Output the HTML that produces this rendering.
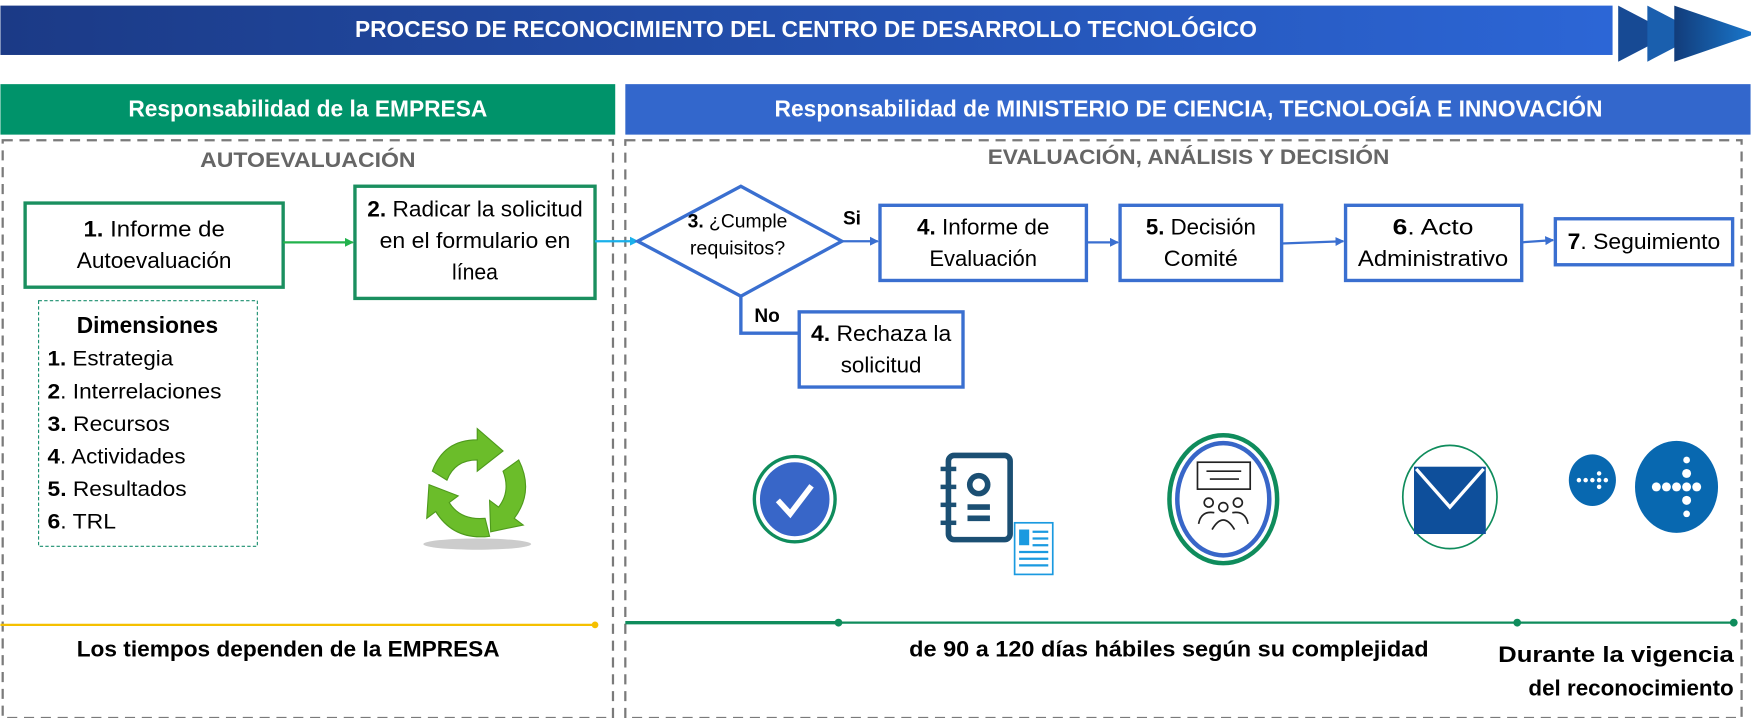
<!DOCTYPE html>
<html><head><meta charset="utf-8"><style>
html,body{margin:0;padding:0;background:#fff;}
svg{display:block;}
text{font-family:"Liberation Sans",Arial,sans-serif;}
</style></head><body>
<svg width="1751" height="718" viewBox="0 0 1560 640" xmlns="http://www.w3.org/2000/svg">
<defs>
<linearGradient id="tg" x1="0" x2="1" y1="0" y2="0"><stop offset="0" stop-color="#1b3a86"/><stop offset="1" stop-color="#2c66d6"/></linearGradient>
<linearGradient id="cg" x1="0" x2="1"><stop offset="0" stop-color="#123c7a"/><stop offset="1" stop-color="#1a7ad0"/></linearGradient>
<marker id="ab" markerWidth="8" markerHeight="8" refX="7" refY="4" orient="auto" markerUnits="userSpaceOnUse"><path d="M0,0 L8,4 L0,8 z" fill="#3a6fd0"/></marker>
<marker id="ag" markerWidth="8" markerHeight="8" refX="7" refY="4" orient="auto" markerUnits="userSpaceOnUse"><path d="M0,0 L8,4 L0,8 z" fill="#22b24c"/></marker>
<marker id="ac" markerWidth="8" markerHeight="8" refX="7" refY="4" orient="auto" markerUnits="userSpaceOnUse"><path d="M0,0 L8,4 L0,8 z" fill="#1ab0ea"/></marker>
</defs>
<rect x="0" y="5" width="1437" height="44" fill="url(#tg)"/>
<text x="718" y="33" text-anchor="middle" fill="#fff" font-weight="bold" font-size="21" textLength="804" lengthAdjust="spacingAndGlyphs">PROCESO DE RECONOCIMIENTO DEL CENTRO DE DESARROLLO TECNOLÓGICO</text>
<path d="M1442,5 L1490,30 L1442,55 z" fill="#174a94"/>
<path d="M1468,5 L1516,30 L1468,55 z" fill="#1a5fae"/>
<path d="M1492,5 L1565,30 L1492,55 z" fill="url(#cg)"/>
<rect x="0" y="75" width="548" height="45" fill="#00936a"/>
<text x="274" y="104" text-anchor="middle" fill="#fff" font-weight="bold" font-size="21" textLength="320" lengthAdjust="spacingAndGlyphs">Responsabilidad de la EMPRESA</text>
<rect x="557" y="75" width="1003" height="45" fill="#3367cc"/>
<text x="1059" y="104" text-anchor="middle" fill="#fff" font-weight="bold" font-size="21" textLength="738" lengthAdjust="spacingAndGlyphs">Responsabilidad de MINISTERIO DE CIENCIA, TECNOLOGÍA E INNOVACIÓN</text>
<rect x="2" y="125" width="544" height="515" fill="none" stroke="#7a7a7a" stroke-width="2" stroke-dasharray="9,6"/>
<rect x="557" y="125" width="995" height="515" fill="none" stroke="#7a7a7a" stroke-width="2" stroke-dasharray="9,6"/>
<text x="274" y="149" text-anchor="middle" fill="#666" font-weight="bold" font-size="19" textLength="192" lengthAdjust="spacingAndGlyphs">AUTOEVALUACIÓN</text>
<text x="1059" y="146" text-anchor="middle" fill="#666" font-weight="bold" font-size="19" textLength="358" lengthAdjust="spacingAndGlyphs">EVALUACIÓN, ANÁLISIS Y DECISIÓN</text>
<g font-size="20" lengthAdjust="spacingAndGlyphs">
<rect x="22" y="181" width="230" height="75" fill="#fff" stroke="#1a8f5f" stroke-width="3"/>
<text x="137" y="211" text-anchor="middle" textLength="126" lengthAdjust="spacingAndGlyphs"><tspan font-weight="bold">1.</tspan> Informe de</text>
<text x="137" y="239" text-anchor="middle" textLength="138" lengthAdjust="spacingAndGlyphs">Autoevaluación</text>
<line x1="252" y1="216" x2="314" y2="216" stroke="#22b24c" stroke-width="2" marker-end="url(#ag)"/>
<rect x="316" y="166" width="214" height="100" fill="#fff" stroke="#1a8f5f" stroke-width="3"/>
<text x="423" y="193" text-anchor="middle" textLength="192" lengthAdjust="spacingAndGlyphs"><tspan font-weight="bold">2.</tspan> Radicar la solicitud</text>
<text x="423" y="221" text-anchor="middle" textLength="170" lengthAdjust="spacingAndGlyphs">en el formulario en</text>
<text x="423" y="249" text-anchor="middle" textLength="41" lengthAdjust="spacingAndGlyphs">línea</text>
<line x1="530" y1="215" x2="568" y2="215" stroke="#1ab0ea" stroke-width="2" marker-end="url(#ac)"/>
<path d="M568,215 L660,166 L750,215 L660,264 z" fill="#fff" stroke="#3a6fd0" stroke-width="3"/>
<text x="657" y="203" text-anchor="middle" font-size="17" textLength="89" lengthAdjust="spacingAndGlyphs"><tspan font-weight="bold">3.</tspan> ¿Cumple</text>
<text x="657" y="227" text-anchor="middle" font-size="17" textLength="85" lengthAdjust="spacingAndGlyphs">requisitos?</text>
<text x="751" y="200" font-weight="bold" font-size="17">Si</text>
<line x1="750" y1="215" x2="782" y2="215" stroke="#3a6fd0" stroke-width="2" marker-end="url(#ab)"/>
<rect x="784" y="183" width="184" height="67" fill="#fff" stroke="#3a6fd0" stroke-width="3"/>
<text x="876" y="209" text-anchor="middle" textLength="118" lengthAdjust="spacingAndGlyphs"><tspan font-weight="bold">4.</tspan> Informe de</text>
<text x="876" y="237" text-anchor="middle" textLength="96" lengthAdjust="spacingAndGlyphs">Evaluación</text>
<line x1="968" y1="216" x2="996" y2="216" stroke="#3a6fd0" stroke-width="2" marker-end="url(#ab)"/>
<rect x="998" y="183" width="144" height="67" fill="#fff" stroke="#3a6fd0" stroke-width="3"/>
<text x="1070" y="209" text-anchor="middle" textLength="98" lengthAdjust="spacingAndGlyphs"><tspan font-weight="bold">5.</tspan> Decisión</text>
<text x="1070" y="237" text-anchor="middle" textLength="66" lengthAdjust="spacingAndGlyphs">Comité</text>
<line x1="1142" y1="217" x2="1197" y2="215" stroke="#3a6fd0" stroke-width="2" marker-end="url(#ab)"/>
<rect x="1199" y="183" width="157" height="67" fill="#fff" stroke="#3a6fd0" stroke-width="3"/>
<text x="1277" y="209" text-anchor="middle" textLength="72" lengthAdjust="spacingAndGlyphs"><tspan font-weight="bold">6</tspan>. Acto</text>
<text x="1277" y="237" text-anchor="middle" textLength="134" lengthAdjust="spacingAndGlyphs">Administrativo</text>
<line x1="1356" y1="216" x2="1384" y2="214" stroke="#3a6fd0" stroke-width="2" marker-end="url(#ab)"/>
<rect x="1386" y="195" width="158" height="41" fill="#fff" stroke="#3a6fd0" stroke-width="3"/>
<text x="1465" y="222" text-anchor="middle" textLength="136" lengthAdjust="spacingAndGlyphs"><tspan font-weight="bold">7</tspan>. Seguimiento</text>
<path d="M660,264 L660,297 L712,297" fill="none" stroke="#3a6fd0" stroke-width="3"/>
<text x="672" y="287" font-weight="bold" font-size="17">No</text>
<rect x="712" y="278" width="146" height="67" fill="#fff" stroke="#3a6fd0" stroke-width="3"/>
<text x="785" y="304" text-anchor="middle" textLength="125" lengthAdjust="spacingAndGlyphs"><tspan font-weight="bold">4.</tspan> Rechaza la</text>
<text x="785" y="332" text-anchor="middle" textLength="72" lengthAdjust="spacingAndGlyphs">solicitud</text>
</g>
<rect x="34" y="268" width="195" height="219" fill="none" stroke="#1a8f6f" stroke-width="1" stroke-dasharray="3,2"/>
<text x="131" y="297" text-anchor="middle" font-weight="bold" font-size="21" textLength="126" lengthAdjust="spacingAndGlyphs">Dimensiones</text>
<g font-size="19">
<text x="42" y="326" textLength="112" lengthAdjust="spacingAndGlyphs"><tspan font-weight="bold">1.</tspan> Estrategia</text>
<text x="42" y="355" textLength="155" lengthAdjust="spacingAndGlyphs"><tspan font-weight="bold">2</tspan>. Interrelaciones</text>
<text x="42" y="384" textLength="109" lengthAdjust="spacingAndGlyphs"><tspan font-weight="bold">3.</tspan> Recursos</text>
<text x="42" y="413" textLength="123" lengthAdjust="spacingAndGlyphs"><tspan font-weight="bold">4</tspan>. Actividades</text>
<text x="42" y="442" textLength="124" lengthAdjust="spacingAndGlyphs"><tspan font-weight="bold">5.</tspan> Resultados</text>
<text x="42" y="471" textLength="61" lengthAdjust="spacingAndGlyphs"><tspan font-weight="bold">6</tspan>. TRL</text>
</g>
<ellipse cx="425" cy="485" rx="48" ry="5" fill="#ccc"/>
<g fill="#6bbd2a" stroke="#4e9a1c" stroke-width="1">
<path d="M385,420 Q395,392 425,392 L425,382 L448,402 L425,420 L425,410 Q405,410 398,428 z"/>
<path d="M462,410 Q476,438 458,462 L466,468 L437,474 L436,446 L444,452 Q455,438 448,420 z"/>
<path d="M436,478 Q404,482 388,456 L380,462 L382,432 L408,442 L400,448 Q410,464 432,462 z"/>
</g>
<ellipse cx="708" cy="445" rx="36" ry="38" fill="#fff" stroke="#0f8c5c" stroke-width="3"/>
<ellipse cx="708" cy="445" rx="31" ry="33" fill="#3866c8"/>
<path d="M693,446 L704,458 L723,433" fill="none" stroke="#fff" stroke-width="5"/>
<g fill="none" stroke="#1b4f73" stroke-width="5">
<rect x="845" y="406" width="55" height="75" rx="5"/>
<circle cx="872" cy="432" r="8"/>
<line x1="862" y1="452" x2="882" y2="452"/><line x1="862" y1="462" x2="882" y2="462"/>
</g>
<g stroke="#1b4f73" stroke-width="4"><line x1="838" y1="418" x2="852" y2="418"/><line x1="838" y1="434" x2="852" y2="434"/><line x1="838" y1="450" x2="852" y2="450"/><line x1="838" y1="466" x2="852" y2="466"/></g>
<rect x="904" y="466" width="34" height="46" fill="#fff" stroke="#1a9ae0" stroke-width="1.5"/>
<rect x="908" y="472" width="9" height="14" fill="#1a9ae0"/>
<g stroke="#1a9ae0" stroke-width="2"><line x1="920" y1="474" x2="934" y2="474"/><line x1="920" y1="480" x2="934" y2="480"/><line x1="920" y1="486" x2="934" y2="486"/><line x1="908" y1="492" x2="934" y2="492"/><line x1="908" y1="498" x2="934" y2="498"/><line x1="908" y1="504" x2="934" y2="504"/></g>
<ellipse cx="1090" cy="445" rx="48" ry="57" fill="#fff" stroke="#0f8c5c" stroke-width="4"/>
<ellipse cx="1090" cy="445" rx="41" ry="50" fill="#fff" stroke="#3866c8" stroke-width="4"/>
<g fill="none" stroke="#222" stroke-width="1.5">
<rect x="1067" y="412" width="47" height="24"/>
<line x1="1075" y1="420" x2="1106" y2="420"/><line x1="1078" y1="427" x2="1104" y2="427"/>
<circle cx="1077" cy="448" r="4"/><circle cx="1090" cy="452" r="4"/><circle cx="1103" cy="448" r="4"/>
<path d="M1068,467 Q1070,455 1082,457"/><path d="M1080,472 Q1090,455 1100,472"/><path d="M1098,457 Q1110,455 1112,467"/>
</g>
<ellipse cx="1292" cy="443" rx="42" ry="46" fill="#fff" stroke="#0f8c5c" stroke-width="1.5"/>
<rect x="1260" y="416" width="64" height="60" fill="#0e4f9b"/>
<path d="M1262,418 L1292,452 L1322,418" fill="none" stroke="#fff" stroke-width="3"/>
<ellipse cx="1419" cy="428" rx="21" ry="23" fill="#0868b0"/>
<ellipse cx="1494" cy="434" rx="37" ry="41" fill="#0868b0"/>
<g fill="#fff"><circle cx="1407" cy="428" r="2"/><circle cx="1413" cy="428" r="2"/><circle cx="1419" cy="428" r="2"/><circle cx="1425" cy="428" r="2"/><circle cx="1425" cy="422" r="2"/><circle cx="1425" cy="434" r="2"/><circle cx="1431" cy="428" r="2"/>
<circle cx="1476" cy="434" r="4"/><circle cx="1485" cy="434" r="4"/><circle cx="1494" cy="434" r="4"/><circle cx="1503" cy="434" r="4"/><circle cx="1503" cy="422" r="4"/><circle cx="1503" cy="446" r="4"/><circle cx="1512" cy="434" r="4"/><circle cx="1503" cy="410" r="3"/><circle cx="1503" cy="458" r="3"/></g>
<line x1="0" y1="557" x2="530" y2="557" stroke="#f5c000" stroke-width="2"/>
<circle cx="530" cy="557" r="3" fill="#f5c000"/>
<line x1="557" y1="555" x2="747" y2="555" stroke="#0f8c5c" stroke-width="3"/>
<line x1="747" y1="555" x2="1545" y2="555" stroke="#0f8c5c" stroke-width="2"/>
<circle cx="747" cy="555" r="3.5" fill="#0f8c5c"/><circle cx="1352" cy="555" r="3.5" fill="#0f8c5c"/><circle cx="1545" cy="555" r="3.5" fill="#0f8c5c"/>
<g font-weight="bold" font-size="20">
<text x="68" y="585" textLength="377" lengthAdjust="spacingAndGlyphs">Los tiempos dependen de la EMPRESA</text>
<text x="810" y="585" textLength="463" lengthAdjust="spacingAndGlyphs">de 90 a 120  días hábiles según su complejidad</text>
<text x="1545" y="590" text-anchor="end" textLength="210" lengthAdjust="spacingAndGlyphs">Durante la vigencia</text>
<text x="1545" y="620" text-anchor="end" textLength="183" lengthAdjust="spacingAndGlyphs">del reconocimiento</text>
</g>
</svg>
</body></html>
